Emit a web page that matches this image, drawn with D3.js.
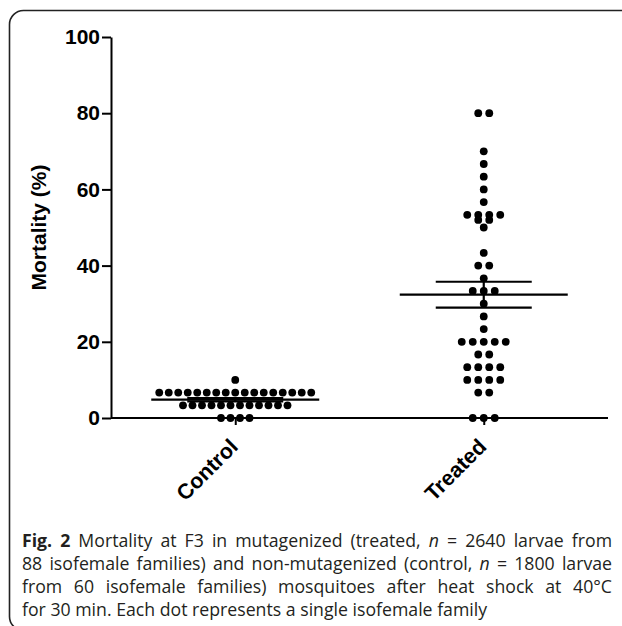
<!DOCTYPE html>
<html>
<head>
<meta charset="utf-8">
<script src="https://cdn.jsdelivr.net/npm/d3@7"></script>
<style>
  body { margin: 0; background: #fff; }
  svg { display: block; }
</style>
</head>
<body>
<script>
// groups on the x axis
var groups = ["Control", "Treated"];

// mortality (%) per isofemale family
var controlValues = [0, 0, 0, 0,
  3.33, 3.33, 3.33, 3.33, 3.33, 3.33, 3.33, 3.33, 3.33, 3.33, 3.33, 3.33,
  6.67, 6.67, 6.67, 6.67, 6.67, 6.67, 6.67, 6.67, 6.67, 6.67, 6.67, 6.67,
  6.67, 6.67, 6.67, 6.67, 6.67,
  10];

var treatedValues = [80, 80, 70, 66.67, 63.33, 60, 56.67,
  53.33, 53.33, 53.33, 53.33, 52, 52, 50, 43.33, 40, 40, 36.67,
  33.33, 33.33, 33.33, 30, 26.67, 23.33,
  20, 20, 20, 20, 20, 16.67, 16.67,
  13.33, 13.33, 13.33, 13.33, 10, 10, 10, 10, 6.67, 6.67, 0, 0, 0];

var yTicks = [0, 20, 40, 60, 80, 100];
var yLabel = "Mortality (%)";

// caption, one entry per printed line: [text, style]
var captionLines = [
  [["Fig. 2", "b"], [" Mortality at F3 in mutagenized (treated, ", ""], ["n", "i"], [" = 2640 larvae from", ""]],
  [["88 isofemale families) and non-mutagenized (control, ", ""], ["n", "i"], [" = 1800 larvae", ""]],
  [["from 60 isofemale families) mosquitoes after heat shock at 40\u00b0C", ""]],
  [["for 30 min. Each dot represents a single isofemale family", ""]]
];

var W = 622, H = 626;
var margin = {top: 37, left: 111, bottom: 418, right: 608};
var dotR = 3.9;
var spacing = {Control: 9.5, Treated: 11};

var svg = d3.select("body").append("svg")
    .attr("width", W)
    .attr("height", H);

// rounded frame running off the right and bottom edges
svg.append("rect")
    .attr("x", 9.5).attr("y", 10.5)
    .attr("width", 700).attr("height", 620)
    .attr("rx", 14).attr("ry", 14)
    .attr("fill", "none")
    .attr("stroke", "#222")
    .attr("stroke-width", 1.6);

var x = d3.scalePoint()
    .domain(groups)
    .range([margin.left, margin.right])
    .padding(0.5);

var y = d3.scaleLinear()
    .domain([0, 100])
    .range([margin.bottom, margin.top]);

// y axis
var yAxis = svg.append("g")
    .attr("transform", "translate(" + margin.left + ",0)")
    .call(d3.axisLeft(y).tickValues(yTicks).tickSize(9).tickPadding(2).tickSizeOuter(0));
yAxis.select(".domain").attr("stroke-width", 2);
yAxis.selectAll(".tick line").attr("stroke-width", 2);
yAxis.selectAll(".tick text")
    .attr("font-family", "Liberation Sans, Arial, sans-serif")
    .attr("font-weight", "bold")
    .attr("font-size", 21)
    .attr("fill", "#000");

// x axis
var xAxis = svg.append("g")
    .attr("transform", "translate(0," + margin.bottom + ")")
    .call(d3.axisBottom(x).tickSize(7).tickSizeOuter(0).tickFormat(""));
xAxis.select(".domain").attr("stroke-width", 2)
    .attr("d", "M" + margin.left + ",0H" + margin.right);
xAxis.selectAll(".tick line").attr("stroke-width", 2);

svg.selectAll(".xlab")
    .data(groups)
    .enter().append("text")
    .attr("class", "xlab")
    .attr("transform", d => "translate(" + (x(d) + 4) + "," + 448 + ") rotate(-45)")
    .attr("text-anchor", "end")
    .attr("font-family", "Liberation Sans, Arial, sans-serif")
    .attr("font-weight", "bold")
    .attr("font-size", 21.5)
    .text(d => d);

svg.append("text")
    .attr("transform", "translate(46," + ((margin.top + margin.bottom) / 2) + ") rotate(-90)")
    .attr("text-anchor", "middle")
    .attr("font-family", "Liberation Sans, Arial, sans-serif")
    .attr("font-weight", "bold")
    .attr("font-size", 21)
    .text(yLabel);

// dots, same values laid side by side
var series = [
  {name: "Control", values: controlValues},
  {name: "Treated", values: treatedValues}
];

series.forEach(function(s) {
  var rows = d3.groups(s.values, v => v);
  var pts = [];
  rows.forEach(function(r) {
    var n = r[1].length;
    r[1].forEach(function(v, i) {
      pts.push({v: v, dx: (i - (n - 1) / 2) * spacing[s.name]});
    });
  });

  svg.append("g").selectAll("circle")
      .data(pts)
      .enter().append("circle")
      .attr("cx", d => x(s.name) + d.dx)
      .attr("cy", d => y(d.v))
      .attr("r", dotR)
      .attr("fill", "#000");

  // mean and SEM
  var m = d3.mean(s.values);
  var sem = d3.deviation(s.values) / Math.sqrt(s.values.length);
  var cx = x(s.name);
  var g = svg.append("g").attr("stroke", "#000").attr("stroke-width", 2.2);
  g.append("line")
      .attr("x1", cx - 84).attr("x2", cx + 84)
      .attr("y1", y(m)).attr("y2", y(m));
  g.append("line")
      .attr("x1", cx).attr("x2", cx)
      .attr("y1", y(m + sem)).attr("y2", y(m - sem));
  [m + sem, m - sem].forEach(function(e) {
    g.append("line")
        .attr("x1", cx - 48).attr("x2", cx + 48)
        .attr("y1", y(e)).attr("y2", y(e));
  });
});

// caption, justified like the printed page
var capX = 22, capRight = 612, capY = 547, capStep = 23;
captionLines.forEach(function(line, li) {
  var t = svg.append("text")
      .attr("x", capX)
      .attr("y", capY + li * capStep)
      .attr("font-family", "Open Sans, Noto Sans, sans-serif")
      .attr("font-size", 17.7)
      .attr("fill", "#231f20");
  line.forEach(function(seg) {
    t.append("tspan")
        .attr("font-weight", seg[1] == "b" ? "bold" : null)
        .attr("font-style", seg[1] == "i" ? "italic" : null)
        .text(seg[0]);
  });
  if (li < captionLines.length - 1) {
    var full = line.map(s => s[0]).join("");
    var gaps = full.split(" ").length - 1;
    var w = t.node().getComputedTextLength();
    t.style("word-spacing", ((capRight - capX - w) / gaps) + "px");
  }
});
</script>
</body>
</html>
